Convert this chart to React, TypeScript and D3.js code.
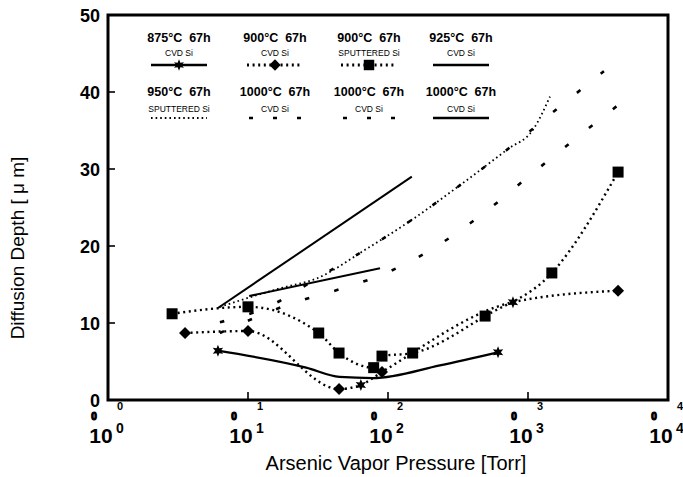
import React from 'react';
import * as d3 from 'd3';

const W = 683;
const H = 477;

// ---- data (pressure in Torr, depth in µm) ----
const p875 = [6.1, 26, 45, 78, 235, 611];
const d875 = [6.4, 4.2, 3.0, 2.85, 4.5, 6.2];
const m875 = ['star', '', '', '', '', 'star'];

const p900cvd = [3.55, 10, 44.7, 64, 90.6, 781, 4400];
const d900cvd = [8.7, 8.96, 1.43, 1.95, 3.64, 12.7, 14.2];
const m900cvd = ['diamond', 'diamond', 'diamond', 'star', 'diamond', 'star', 'diamond'];

const p900sp = [2.87, 10, 32, 44.7, 79, 90.6, 150, 494, 1480, 4400];
const d900sp = [11.2, 12.1, 8.7, 6.1, 4.2, 5.7, 6.1, 10.9, 16.5, 29.6];
const m900sp = ['square', 'square', 'square', 'square', 'square', 'square', 'square', 'square', 'square', 'square'];

const p925 = [6.1, 148];
const d925 = [11.95, 29.0];

const p950 = [6.3, 16.9, 31.1, 68.5, 148, 327, 719, 1086, 1436];
const d950 = [12.1, 14.5, 15.8, 19.5, 23.4, 27.9, 32.6, 35.1, 39.4];

const p1000a = [6.3, 13.9, 31.1, 68.5, 148, 327, 719, 1585, 3490];
const d1000a = [10.1, 12.1, 15.8, 19.5, 23.4, 27.9, 32.6, 37.7, 42.7];

const p1000b = [6.3, 21, 45.4, 100, 224, 493, 1086, 2352, 4400];
const d1000b = [8.7, 12.6, 14.4, 16.6, 20.0, 24.4, 29.5, 34.4, 38.3];

const p1000s = [10.2, 87.7];
const d1000s = [13.5, 17.1];

const yTicks = [0, 10, 20, 30, 40, 50];
const xTicks = [1, 10, 100, 1000, 10000];

const legendTitles = ['875°C  67h', '900°C  67h', '900°C  67h', '925°C  67h', '950°C  67h', '1000°C  67h', '1000°C  67h', '1000°C  67h'];
const legendSubs = ['CVD Si', 'CVD Si', 'SPUTTERED Si', 'CVD Si', 'SPUTTERED Si', 'CVD Si', 'CVD Si', 'CVD Si'];

// ---- styles ----
const STYLES: Record<string, { w: number; dash?: string }> = {
  solid: { w: 2 },
  solidThick: { w: 2.3 },
  dotted: { w: 2.4, dash: '2 3.6' },
  fine: { w: 1.8, dash: '1.6 3' },
  sparse: { w: 2.6, dash: '4.5 26' },
};

const series = [
  { p: p875, d: d875, m: m875, style: 'solidThick', legendMarker: 'star' },
  { p: p900cvd, d: d900cvd, m: m900cvd, style: 'dotted', legendMarker: 'diamond' },
  { p: p900sp, d: d900sp, m: m900sp, style: 'dotted', legendMarker: 'square' },
  { p: p925, d: d925, m: [] as string[], style: 'solid', legendMarker: '' },
  { p: p950, d: d950, m: [] as string[], style: 'fine', legendMarker: '' },
  { p: p1000a, d: d1000a, m: [] as string[], style: 'sparse', legendMarker: '' },
  { p: p1000b, d: d1000b, m: [] as string[], style: 'sparse', legendMarker: '' },
  { p: p1000s, d: d1000s, m: [] as string[], style: 'solid', legendMarker: '' },
];

function Marker({ type, cx, cy, k = 1 }: { type: string; cx: number; cy: number; k?: number }) {
  if (type === 'square') {
    const s = 11 * k;
    return <rect x={cx - s / 2} y={cy - s / 2} width={s} height={s} fill="#000" />;
  }
  if (type === 'diamond') {
    const a = 6 * k;
    return <path d={`M${cx},${cy - a}L${cx + a},${cy}L${cx},${cy + a}L${cx - a},${cy}Z`} fill="#000" />;
  }
  if (type === 'star') {
    const pts = d3.range(12).map((i) => {
      const r = i % 2 === 0 ? 6 * k : 2.8 * k;
      const ang = (Math.PI / 6) * i - Math.PI / 2;
      return [cx + r * Math.cos(ang), cy + r * Math.sin(ang)];
    });
    return <path d={'M' + pts.map((q) => q.join(',')).join('L') + 'Z'} fill="#000" />;
  }
  return null;
}

export default function App() {
  const x = d3.scaleLog().domain([1, 1e4]).range([108, 668]);
  const y = d3.scaleLinear().domain([0, 50]).range([400, 15]);
  const line = d3
    .line<[number, number]>()
    .x((q) => x(q[0]))
    .y((q) => y(q[1]))
    .curve(d3.curveMonotoneX);

  const font = 'Liberation Sans, Arial, sans-serif';
  const legendCols = [179, 275, 369, 461];
  const legendTitleY = [42, 96];
  const legendSubY = [56, 112];
  const legendSymY = [65, 118];

  return (
    <div style={{ position: 'absolute', left: 0, top: 0 }}>
      <svg width={W} height={H} style={{ display: 'block', background: '#fff' }} fontFamily={font}>
        {/* data lines */}
        {series.map((s, i) => {
          const st = STYLES[s.style];
          const pts = s.p.map((v, j) => [v, s.d[j]] as [number, number]);
          return (
            <path
              key={'l' + i}
              d={line(pts) || ''}
              fill="none"
              stroke="#000"
              strokeWidth={st.w}
              strokeDasharray={st.dash}
            />
          );
        })}
        {/* markers */}
        {series.map((s, i) =>
          s.m.map((mk, j) => (mk ? <Marker key={`m${i}-${j}`} type={mk} cx={x(s.p[j])} cy={y(s.d[j])} /> : null))
        )}

        {/* legend */}
        {series.map((s, i) => {
          const col = i % 4;
          const row = Math.floor(i / 4);
          const cx = legendCols[col];
          const st = STYLES[s.style];
          const sy = legendSymY[row];
          const legDash = s.style === 'sparse' ? '4 20' : st.dash;
          return (
            <g key={'lg' + i}>
              <text x={cx} y={legendTitleY[row]} fontSize={12.5} fontWeight="bold" textAnchor="middle" style={{ whiteSpace: 'pre' }}>
                {legendTitles[i]}
              </text>
              <text x={cx} y={legendSubY[row]} fontSize={8.5} textAnchor="middle">
                {legendSubs[i]}
              </text>
              <line
                x1={s.style === 'sparse' ? cx - 26 : cx - 28}
                x2={cx + 28}
                y1={sy}
                y2={sy}
                stroke="#000"
                strokeWidth={s.style === 'sparse' ? 2.4 : st.w + 0.4}
                strokeDasharray={legDash}
              />
              {s.legendMarker ? <Marker type={s.legendMarker} cx={cx} cy={sy} k={0.95} /> : null}
            </g>
          );
        })}

        {/* frame */}
        <rect x={108} y={15} width={560} height={385} fill="none" stroke="#000" strokeWidth={3} />

        {/* y ticks */}
        {yTicks.map((t) => (
          <g key={'yt' + t}>
            {t > 0 && t < 50 ? <line x1={108} x2={115} y1={y(t)} y2={y(t)} stroke="#000" strokeWidth={1.6} /> : null}
            <text x={100} y={y(t) + 6.5} fontSize={18} fontWeight="bold" textAnchor="end">
              {t}
            </text>
          </g>
        ))}

        {/* x ticks */}
        {xTicks.map((t) => {
          const tx = x(t);
          const e = Math.round(Math.log10(t));
          return (
            <g key={'xt' + t}>
              {t > 1 && t < 1e4 ? <line x1={tx} x2={tx} y1={400} y2={392} stroke="#000" strokeWidth={1.6} /> : null}
              <text x={tx - 7} y={443} fontSize={21} fontWeight="bold" textAnchor="middle">
                10
              </text>
              <text x={tx + 12} y={433} fontSize={14} fontWeight="bold" textAnchor="middle">
                {e}
              </text>
              <text x={tx + 12} y={410} fontSize={11} fontWeight="bold" textAnchor="middle">
                {e}
              </text>
              <text x={tx - 14} y={420} fontSize={10} fontWeight="bold" textAnchor="middle" stroke="#000" strokeWidth={1.2}>
                0
              </text>
            </g>
          );
        })}

        {/* axis titles */}
        <text x={396} y={470} fontSize={20} textAnchor="middle">
          Arsenic Vapor Pressure [Torr]
        </text>
        <text transform="translate(24,248) rotate(-90)" fontSize={19} textAnchor="middle">
          Diffusion Depth [ μ m]
        </text>
      </svg>
    </div>
  );
}
